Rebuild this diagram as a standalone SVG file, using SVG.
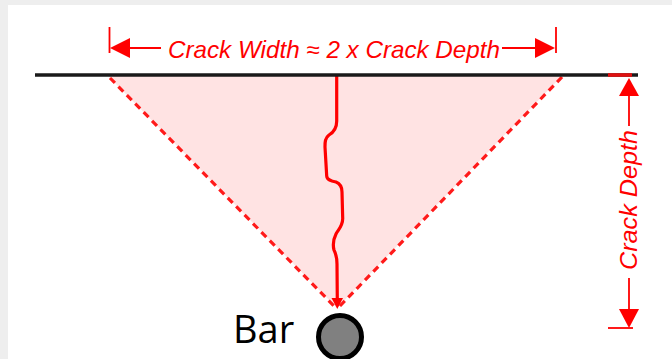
<svg xmlns="http://www.w3.org/2000/svg" width="672" height="359" viewBox="0 0 672 359">
<style>
.red{stroke:#ff0000;fill:none}
.ah{fill:#ff0000;stroke:none}
.lbl{font-family:"Liberation Sans",Arial,sans-serif;font-style:italic;font-size:24px;fill:#ff0000}
.dash{stroke:#ff1a1a;stroke-width:3.2;stroke-dasharray:7 5;fill:none}
</style>
<rect width="672" height="359" fill="#eeeeee"/>
<rect x="8" y="5" width="664" height="354" fill="#ffffff"/>
<g id="wedge">
<polygon points="108,76 562,76 337,308" fill="#ffe3e3"/>
</g>
<g id="connectors">
<line class="dash" x1="110" y1="78" x2="336" y2="308"/>
<line class="dash" x1="562" y1="77" x2="338" y2="308"/>
<path class="red" stroke-width="3.2" stroke-linecap="round" d="M336.7,76 L336.7,120 C337,128 334,132 329,135 C325,138 325,142 325,147 L326.7,176 C327,180 331,181 336,182 C341,184 342,188 342,192 L342.7,218 C343,226 338,230 336,234 C333,240 333,246 334,250 C336,254 337,258 337,264 L337.3,300"/>
<polygon class="ah" points="331.5,298 343,298 337.3,309"/>
</g>
<g id="surface">
<line x1="35" y1="75" x2="638" y2="75" stroke="#1a1a1a" stroke-width="3.6"/>
<line x1="608" y1="75" x2="632" y2="75" stroke="#e01010" stroke-width="3.6"/>
</g>
<g id="width-dimension">
<line class="red" stroke-width="1.8" x1="109.5" y1="27" x2="109.5" y2="53"/>
<line class="red" stroke-width="1.8" x1="556" y1="27" x2="556" y2="53"/>
<polygon class="ah" points="110,48 130,38 130,58"/>
<polygon class="ah" points="555,48 535,38 535,58"/>
<line class="red" stroke-width="1.8" x1="128" y1="48" x2="161" y2="48"/>
<line class="red" stroke-width="1.8" x1="502" y1="48" x2="537" y2="48"/>
<text class="lbl" x="334" y="58" text-anchor="middle" textLength="332" lengthAdjust="spacingAndGlyphs">Crack Width ≈ 2 x Crack Depth</text>
</g>
<g id="depth-dimension">
<polygon class="ah" points="629,78 619,96 639,96"/>
<line class="red" stroke-width="1.8" x1="629" y1="95" x2="629" y2="126"/>
<line class="red" stroke-width="1.8" x1="629" y1="278" x2="629" y2="310"/>
<polygon class="ah" points="629,328 619,309 639,309"/>
<line class="red" stroke-width="1.8" x1="608" y1="328" x2="633" y2="328"/>
<text class="lbl" transform="translate(637,200) rotate(-90)" x="0" y="0" text-anchor="middle" textLength="140" lengthAdjust="spacingAndGlyphs">Crack Depth</text>
</g>
<g id="bar">
<circle cx="340" cy="337" r="21.5" fill="#808080" stroke="#000000" stroke-width="5"/>
<text x="233" y="343" font-family="'Open Sans','Noto Sans',sans-serif" font-size="38" fill="#000000">Bar</text>
</g>
</svg>
